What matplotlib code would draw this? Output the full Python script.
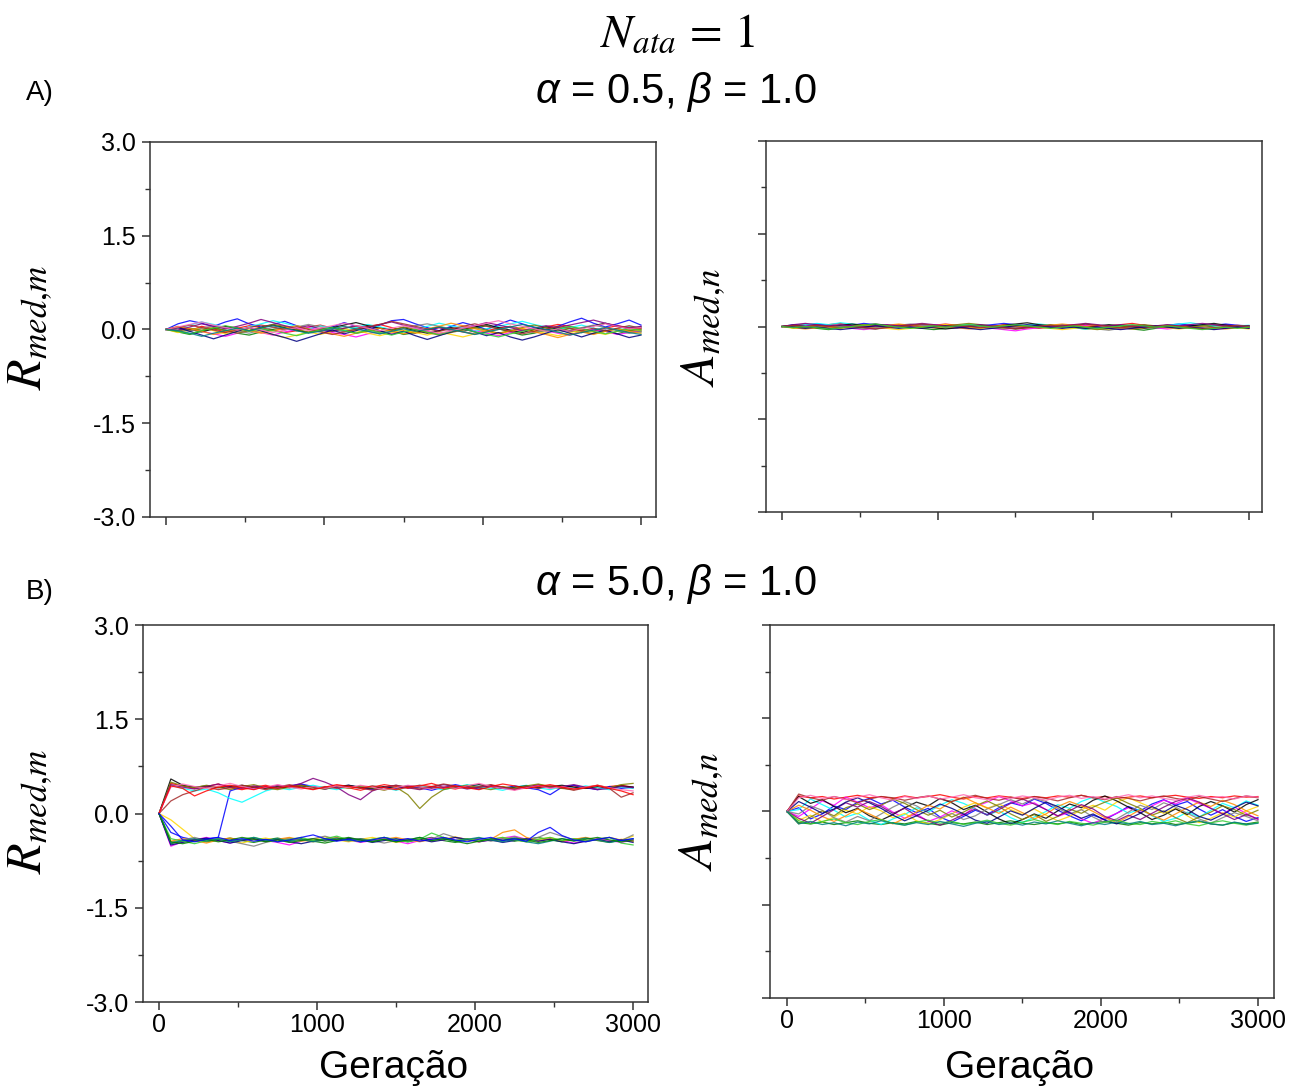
import numpy as np
import matplotlib.pyplot as plt
from matplotlib.ticker import MultipleLocator

plt.rcParams['font.family'] = ['Liberation Sans', 'DejaVu Sans']
plt.rcParams['mathtext.fontset'] = 'custom'
plt.rcParams['mathtext.rm'] = 'Liberation Sans'
plt.rcParams['mathtext.it'] = 'Liberation Sans:italic'

# generation sampled every 75 steps
generations = np.arange(0, 3001, 75)

# trajectories, values in hundredths
r_low_alpha = [
    "0 3 -2 5 1 -4 2 6 3 -1 -5 -2 4 7 2 -3 0 5 8 3 -2 -6 -1 3 0 -4 -7 -2 2 5 1 -3 4 8 5 0 -3 2 6 3 1",
    "0 -4 -8 -3 2 -1 -6 -9 -4 0 3 -2 -5 1 4 -1 -6 -3 2 -2 -8 -5 0 4 1 -3 2 6 1 -4 -9 -6 -1 3 -2 -5 0 -3 -7 -2 -4",
    "0 9 14 10 5 12 17 9 4 8 13 6 1 -3 4 11 5 -1 7 14 16 9 3 -2 5 11 6 0 8 15 9 3 -1 5 12 18 10 4 9 15 7",
    "0 -2 1 -3 -7 -11 -6 -2 -5 -9 -4 0 3 -1 -5 -8 -12 -7 -3 -6 -2 1 -3 -7 -4 0 -2 -6 -10 -5 -1 2 -2 -6 -9 -4 0 -3 -8 -5 -2",
    "0 2 7 12 8 3 -1 4 9 14 10 5 1 6 2 -2 3 8 4 0 -4 1 5 10 6 2 -3 1 5 9 13 8 4 0 3 7 2 -2 1 5 3",
    "0 -5 -1 3 -2 -7 -3 1 -4 -8 -13 -9 -4 -8 -3 1 -2 -6 -10 -5 -1 -5 -9 -4 -8 -12 -7 -3 -6 -2 2 -2 -6 -10 -5 -1 -4 -8 -3 1 -2",
    "0 4 0 -4 1 5 2 -2 3 7 3 -1 -5 -1 3 7 11 6 2 -1 3 -2 -6 -2 3 0 4 8 3 -1 -5 0 4 1 -3 2 6 10 5 1 4",
    "0 1 -3 2 6 2 -2 -6 -1 3 -1 4 8 4 0 -4 1 -3 -7 -3 2 6 9 5 1 -3 -8 -4 0 4 0 -5 -1 -5 -1 3 7 3 -2 -6 -3",
    "0 -3 2 -1 3 -2 -6 -2 3 8 5 0 -4 1 -3 2 5 1 -4 -1 4 0 -5 -9 -5 -1 3 -1 -6 -2 3 7 3 -2 2 -3 -7 -3 1 -2 0",
    "0 5 1 -3 -8 -4 1 -2 -6 -2 2 6 1 -3 -7 -11 -6 -2 2 -3 -7 -3 1 5 10 6 1 -3 -7 -3 1 -4 -8 -13 -8 -4 -8 -3 1 -3 -6",
    "0 -1 4 9 5 1 5 10 16 11 6 2 6 1 -3 2 6 3 8 12 7 3 -1 3 -2 2 6 11 7 3 -2 2 6 3 7 11 15 10 6 2 5",
    "0 3 -3 -9 -15 -9 -3 3 -2 -8 -13 -19 -13 -7 -1 -7 -2 4 -2 -8 -3 -10 -16 -10 -4 1 -4 -10 -5 -12 -17 -12 -6 0 -6 -12 -6 -1 -7 -13 -9",
    "0 3 7 3 -1 -5 -1 3 7 4 0 4 0 -4 -8 -4 0 4 8 13 9 5 1 -3 1 5 9 5 1 -3 -7 -3 1 5 2 -2 2 -2 2 6 2",
    "0 -3 -7 -2 2 6 2 -3 1 -2 -6 -10 -5 -1 3 -2 -6 -1 -5 -9 -4 0 -4 -8 -3 1 -4 -8 -12 -7 -3 1 -3 1 5 1 -3 -7 -3 1 -1",
    "0 4 8 12 7 3 -1 3 -1 -5 -1 3 -2 2 6 10 6 2 -2 2 6 2 -2 -6 -2 2 6 10 14 9 5 1 -3 1 -3 1 5 9 5 1 3",
    "0 -2 -6 -11 -6 -2 2 -2 2 6 2 -2 -6 -3 1 5 1 -3 -7 -3 1 -3 0 4 0 -4 -8 -4 0 4 8 4 0 -4 -9 -5 -1 3 -1 -5 -8",
]

a_low_alpha = [
    "0 2 4 1 3 5 2 0 -2 1 3 1 -1 2 4 2 0 -2 0 3 1 -1 -3 -1 1 3 1 -1 1 3 5 2 0 -2 0 2 -1 1 3 1 0",
    "0 -2 -1 -3 -5 -2 0 -2 -4 -1 1 -1 -3 -5 -3 -1 1 -1 -3 -1 -4 -2 0 2 0 -2 -4 -2 0 -2 -4 -6 -3 -1 -3 -1 1 -1 -3 -1 -2",
    "0 3 1 4 2 0 2 5 3 1 -1 1 3 1 -1 -3 -1 1 3 5 3 1 -1 1 3 1 4 2 0 -2 0 2 0 2 4 2 0 2 4 2 1",
    "0 -1 1 -1 -3 -1 -3 -5 -3 -1 1 -1 1 3 1 -1 -3 -1 -3 -5 -7 -4 -2 0 -2 0 2 0 -2 -4 -2 0 -2 -4 -2 0 -2 -4 -3 -1 -3",
    "0 1 3 5 3 6 4 2 0 2 0 -2 0 2 0 2 4 2 0 -2 0 2 4 2 0 -2 -4 -2 0 2 0 -2 0 2 4 6 3 1 -1 1 2",
    "0 -3 -1 1 -1 -3 -1 1 -1 -3 -5 -3 -1 1 3 1 -1 -3 -1 -3 -1 1 -1 -3 -5 -3 -1 -3 -5 -2 0 -2 0 -2 -4 -2 0 -2 0 -2 -4",
    "0 2 0 -2 0 2 4 2 4 2 0 2 0 -2 -4 -2 0 2 0 2 4 6 3 1 -1 1 -1 1 3 1 -1 -3 -1 1 -1 1 3 5 2 0 1",
    "0 0 -2 0 2 0 -2 -4 -2 0 2 4 2 0 -2 0 2 0 -2 -4 -2 0 -2 0 2 0 -2 -4 -6 -3 -1 1 -1 1 -1 -3 -1 -3 -1 1 -1",
    "0 1 -1 2 0 -2 1 3 1 -1 1 -1 -3 -1 1 3 5 3 1 -1 1 -1 1 3 1 -1 -3 -5 -3 -1 1 3 1 -1 1 -1 1 3 1 -1 -2",
    "0 -2 -4 -2 0 -2 0 2 0 2 4 2 0 -2 0 -2 -4 -2 0 2 0 -2 0 2 4 2 0 2 0 -2 -4 -2 0 2 0 -2 -4 -2 -4 -2 0",
    "0 3 5 3 1 3 1 -1 1 3 1 3 5 3 1 -1 1 3 1 -1 -3 -1 1 -1 1 3 5 3 1 3 1 -1 1 3 1 3 5 3 1 -1 1",
    "0 -1 -3 -1 -3 -5 -3 -1 1 -1 -3 -1 -3 -1 1 -1 -3 -5 -3 -1 1 3 1 -1 -3 -1 -3 -1 -3 -5 -3 -1 1 -1 -3 -1 -3 -5 -3 -1 -3",
    "0 2 0 2 0 -2 0 -2 -4 -2 0 2 4 2 0 2 0 -2 0 -2 -4 -2 0 2 0 2 4 2 0 -2 0 2 0 2 0 -2 -4 -2 0 2 0",
    "0 -2 0 -2 -4 -2 0 2 4 1 -1 -3 -1 1 -1 1 3 1 -1 1 3 1 -1 -3 -1 1 -1 -3 -1 1 3 1 -1 1 -1 -3 -5 -3 -1 -3 -1",
]

r_high_alpha = [
    "0 48 44 40 43 47 41 38 42 45 40 43 46 42 39 44 41 37 42 46 43 40 44 48 42 39 43 41 45 42 38 42 46 43 40 44 41 39 43 45 42",
    "0 -48 -44 -41 -45 -42 -39 -43 -46 -42 -39 -43 -40 -44 -47 -43 -40 -44 -41 -38 -42 -45 -41 -38 -43 -46 -42 -39 -43 -40 -44 -41 -38 -42 -45 -41 -39 -43 -46 -42 -44",
    "0 -30 -38 -42 -40 -38 36 42 39 43 40 44 47 43 39 42 45 41 38 42 40 44 41 37 42 46 42 39 43 40 44 41 38 30 42 45 41 38 43 40 42",
    "0 -52 -45 -42 -38 -43 -47 -42 -39 -43 -46 -50 -44 -40 -43 -39 -42 -46 -43 -40 -44 -48 -43 -39 -42 -38 -41 -45 -42 -39 -36 -41 -44 -40 -43 -47 -44 -40 -43 -46 -42",
    "0 45 40 36 39 33 24 18 27 36 41 38 42 45 41 38 43 40 44 41 37 42 45 41 38 42 46 43 40 37 42 45 41 38 43 40 44 41 38 42 40",
    "0 -10 -25 -40 -44 -40 -43 -47 -42 -39 -43 -40 -44 -41 -37 -42 -45 -41 -38 -42 -46 -43 -40 -44 -41 -37 -42 -45 -41 -38 -42 -45 -41 -38 -43 -40 -44 -41 -38 -42 -36",
    "0 55 45 42 44 41 43 45 42 40 43 41 44 42 40 43 45 42 40 43 41 44 42 40 43 41 44 46 43 40 42 44 41 43 45 42 40 43 41 44 42",
    "0 -46 -42 -38 -43 -40 -44 -48 -52 -46 -42 -39 -43 -40 -36 -41 -44 -40 -43 -47 -43 -40 -44 -41 -32 -38 -43 -40 -44 -41 -37 -42 -38 -30 -36 -42 -45 -41 -38 -43 -34",
    "0 50 44 41 45 42 38 43 46 41 38 42 45 41 39 43 40 44 41 37 42 30 8 26 38 42 45 41 38 43 40 44 47 43 40 38 42 45 41 46 48",
    "0 -44 -40 -43 -47 -42 -39 -43 -40 -44 -41 -38 -42 -45 -41 -38 -43 -40 -44 -41 -38 -42 -45 -41 -38 -43 -40 -44 -41 -30 -26 -38 -43 -40 -44 -41 -38 -42 -45 -41 -44",
    "0 46 42 39 43 47 42 40 44 41 45 43 48 56 50 42 30 22 36 42 45 41 38 42 46 43 39 42 45 41 38 42 45 41 43 46 42 38 40 43 41",
    "0 -50 -46 -42 -39 -43 -47 -43 -40 -44 -41 -45 -48 -44 -40 -43 -39 -42 -46 -43 -40 -44 -41 -45 -42 -38 -41 -45 -42 -46 -43 -40 -44 -41 -45 -48 -44 -41 -45 -42 -46",
    "0 20 30 36 42 38 41 45 42 38 42 46 42 39 43 40 44 41 37 42 45 42 39 43 47 44 40 43 46 42 39 43 40 44 41 37 41 44 40 26 33",
    "0 -40 -44 -48 -43 -40 -44 -41 -38 -42 -45 -41 -38 -43 -40 -36 -42 -45 -41 -38 -42 -45 -41 -31 -38 -43 -40 -44 -41 -38 -42 -45 -41 -38 -43 -40 -44 -41 -38 -47 -50",
    "0 42 47 43 40 44 48 43 39 42 46 42 39 43 40 44 41 45 42 38 41 45 42 39 43 40 44 48 43 40 37 41 44 40 43 39 42 45 41 38 36",
    "0 -47 -43 -40 -44 -41 -45 -42 -38 -43 -40 -44 -41 -45 -42 -39 -43 -40 -44 -41 -45 -42 -38 -43 -40 -44 -41 -38 -42 -45 -41 -45 -48 -44 -40 -43 -39 -42 -46 -43 -40",
    "0 44 40 28 36 42 45 41 38 43 40 44 41 38 42 46 43 40 44 41 38 42 45 43 40 44 41 38 43 47 44 40 43 46 42 39 41 45 40 36 30",
    "0 -45 -48 -44 -41 -45 -42 -38 -41 -45 -42 -46 -43 -40 -44 -41 -38 -42 -45 -41 -45 -42 -38 -43 -40 -44 -48 -44 -40 -43 -39 -42 -46 -43 -40 -44 -41 -38 -42 -45 -42",
    "0 -20 -42 -45 -41 -38 -43 -40 -44 -41 -45 -42 -38 -34 -40 -44 -41 -45 -42 -38 -43 -40 -44 -41 -38 -42 -45 -41 -38 -43 -40 -44 -30 -22 -35 -42 -45 -41 -38 -43 -40",
]

a_high_alpha = [
    "0 25 22 24 20 23 26 22 24 21 25 22 24 27 23 20 24 22 25 23 21 24 22 25 23 26 22 24 21 23 25 22 24 26 23 21 24 22 25 23 24",
    "0 -18 -20 -17 -21 -18 -15 -19 -21 -18 -20 -16 -19 -22 -18 -20 -17 -21 -18 -15 -19 -21 -18 -20 -17 -21 -18 -16 -19 -22 -18 -20 -17 -21 -19 -16 -20 -22 -18 -20 -17",
    "0 6 -12 -4 9 3 15 21 12 18 7 -2 5 -9 -17 -8 2 -5 6 14 9 20 13 2 -7 -15 -6 -13 -3 8 1 12 19 10 16 4 -6 3 -8 -16 -10",
    "0 -8 4 17 10 23 15 6 11 -1 -11 -4 -16 -9 1 -6 8 15 24 17 9 14 3 -8 -1 -12 -19 -11 -3 6 -2 9 18 12 21 13 5 -4 7 -3 -13",
    "0 3 20 11 2 -9 -3 -14 -21 -12 -5 6 -1 10 19 13 4 -6 1 -10 -18 -9 0 11 5 16 23 15 8 -3 4 -7 -16 -11 -1 -9 2 13 6 17 10",
    "0 -14 -6 -17 -9 2 -4 8 1 -10 -3 -15 -20 -13 -4 7 14 5 12 3 -5 4 -6 -15 -8 3 10 2 15 22 14 6 -3 5 -7 -18 -11 -2 -9 1 8",
    "0 24 13 19 8 -2 5 -7 -14 -5 6 15 9 21 14 3 10 -1 -12 -20 -13 -4 -11 1 12 6 18 25 17 7 -2 -13 -6 4 -5 8 16 9 -1 11 19",
    "0 -4 9 2 -10 -17 -8 -15 -4 7 16 9 -2 -11 -3 -13 -7 4 11 19 12 21 16 5 -4 3 -9 -18 -12 -1 10 3 14 7 -3 -12 -19 -10 -2 -8 -15",
    "0 -20 -9 1 -7 6 12 3 10 20 13 3 -6 2 -9 -1 9 17 8 -4 -13 -5 -16 -8 4 -3 7 15 22 13 5 -6 1 -10 -18 -9 -1 9 3 -6 2",
    "0 10 2 -8 -16 -7 4 -4 -13 -20 -11 -1 10 4 16 23 14 6 -3 7 -2 -12 -4 8 16 9 0 -10 -18 -8 3 -6 -14 -4 6 15 8 18 11 1 -7",
    "0 -11 -19 -8 3 14 7 16 8 -3 5 -7 -15 -22 -14 -5 4 -6 3 13 20 12 3 -7 1 11 4 -8 -15 -6 -13 -3 7 16 22 15 5 -4 -13 -5 -12",
    "0 16 7 -3 4 15 22 14 5 -6 -15 -7 2 12 5 -4 -14 -19 -9 1 -6 5 15 8 -2 -11 -4 -14 -20 -12 -3 8 -1 10 3 -8 -14 -5 6 15 9",
    "0 28 22 18 24 20 14 20 24 22 18 22 25 20 16 22 26 21 18 23 19 24 21 17 22 26 22 19 24 21 17 22 25 21 18 24 20 16 21 25 22",
    "0 -15 -20 -16 -12 -18 -21 -16 -13 -19 -22 -17 -14 -19 -16 -21 -18 -14 -19 -22 -17 -13 -18 -21 -16 -19 -22 -17 -14 -19 -21 -16 -19 -15 -20 -23 -18 -15 -19 -22 -18",
    "0 22 26 21 24 19 23 27 22 18 24 21 25 20 23 27 22 19 24 21 25 22 18 23 26 21 24 20 23 27 22 25 21 18 23 26 22 24 20 25 23",
    "0 -20 -16 -21 -18 -23 -17 -20 -15 -19 -22 -18 -21 -16 -20 -24 -19 -16 -21 -18 -22 -17 -20 -15 -19 -23 -18 -21 -17 -20 -16 -21 -19 -23 -18 -15 -20 -22 -17 -21 -19",
]

line_colors = ['red', 'green', 'blue', 'magenta', 'cyan', 'gold', 'black', 'gray',
               'olive', 'darkorange', 'purple', 'navy', 'brown', 'limegreen',
               'hotpink', 'teal']

y_tick_values = [-3.0, -1.5, 0.0, 1.5, 3.0]
y_tick_labels = ['-3.0', '-1.5', '0.0', '1.5', '3.0']
x_tick_values = [0, 1000, 2000, 3000]
x_tick_labels = ['0', '1000', '2000', '3000']

W, H = 1298, 1092


def parse(rows):
    return [np.array(r.split(), dtype=float) / 100 for r in rows]


def draw_panel(ax, rows, xlim, show_xlabels, show_ylabels):
    for i, vals in enumerate(parse(rows)):
        n = min(len(vals), len(generations))
        ax.plot(generations[:n], vals[:n], color=line_colors[i % len(line_colors)],
                lw=0.9, alpha=0.85)
    ax.set_xlim(xlim)
    ax.set_ylim(-3, 3)
    ax.set_yticks(y_tick_values)
    ax.set_yticklabels(y_tick_labels if show_ylabels else [])
    ax.yaxis.set_minor_locator(MultipleLocator(0.75))
    ax.set_xticks(x_tick_values)
    ax.set_xticklabels(x_tick_labels if show_xlabels else [])
    ax.xaxis.set_minor_locator(MultipleLocator(500))
    ax.tick_params(which='major', direction='out', length=6, width=1.1,
                   labelsize=18, color='#333333', pad=4)
    ax.tick_params(which='minor', direction='out', length=3.5, width=1.0,
                   color='#333333')
    ax.tick_params(axis='x', pad=2)
    for s in ax.spines.values():
        s.set_linewidth(1.1)
        s.set_color('#333333')


fig = plt.figure(figsize=(W / 100, H / 100), dpi=100)

ax1 = fig.add_axes([0.1156, 0.5266, 0.3898, 0.3434])
ax2 = fig.add_axes([0.5901, 0.5311, 0.3821, 0.3398])
ax3 = fig.add_axes([0.1102, 0.0824, 0.3891, 0.3452])
ax4 = fig.add_axes([0.5932, 0.0861, 0.3883, 0.3416])

draw_panel(ax1, r_low_alpha, (-101, 3095), False, True)
draw_panel(ax2, a_low_alpha, (-103, 3083), False, False)
draw_panel(ax3, r_high_alpha, (-101, 3095), True, True)
draw_panel(ax4, a_high_alpha, (-108, 3102), True, False)

# titles and labels
fig.text(677 / W, 1 - 35 / H, r'$N_{ata}\,=\,1$', fontsize=34, math_fontfamily='stix',
         ha='center', va='center')
fig.text(676 / W, 1 - 92 / H, r'$\alpha$ = 0.5, $\beta$ = 1.0', fontsize=30,
         ha='center', va='center')
fig.text(676 / W, 1 - 584 / H, r'$\alpha$ = 5.0, $\beta$ = 1.0', fontsize=30,
         ha='center', va='center')
fig.text(40 / W, 1 - 93 / H, 'A)', fontsize=20, ha='center', va='center')
fig.text(40 / W, 1 - 592 / H, 'B)', fontsize=20, ha='center', va='center')

for x, y, lab in [(31, 328, r'$R_{med{,}m}$'), (704, 328, r'$A_{med{,}n}$'),
                  (31, 812, r'$R_{med{,}m}$'), (702, 812, r'$A_{med{,}n}$')]:
    fig.text(x / W, 1 - y / H, lab, fontsize=36, rotation=90, math_fontfamily='stix',
             ha='center', va='center')

fig.text(394 / W, 1 - 1068 / H, 'Geração', fontsize=28, ha='center', va='center')
fig.text(1020 / W, 1 - 1068 / H, 'Geração', fontsize=28, ha='center', va='center')

fig.savefig('out.png', dpi=100)
